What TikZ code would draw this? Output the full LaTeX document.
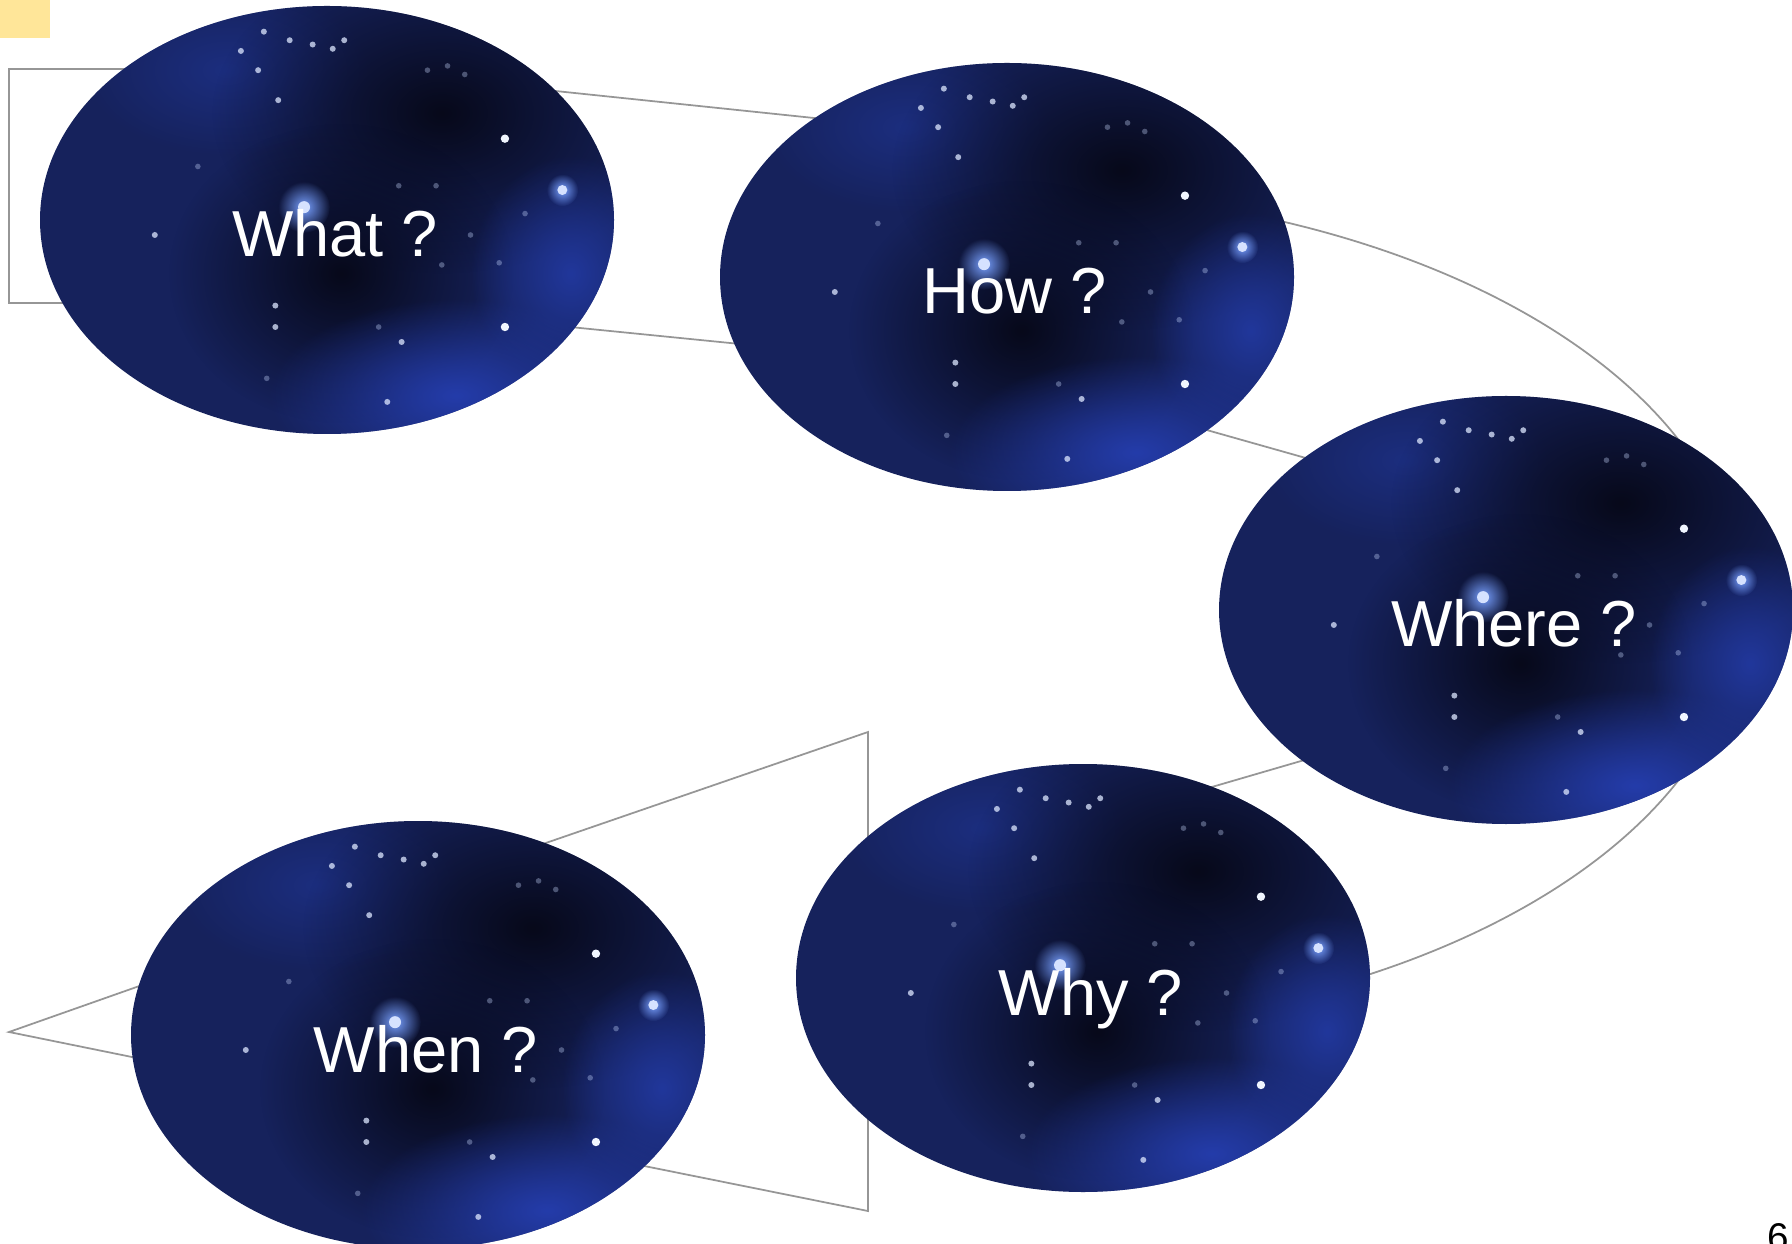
\documentclass[tikz,border=0pt]{standalone}
\usepackage{fontspec}
\setmainfont{Liberation Sans}
\usetikzlibrary{shapes.geometric,fadings,backgrounds}
\definecolor{skynavy}{RGB}{22,34,92}
\definecolor{skydark}{RGB}{7,9,26}
\definecolor{skyblue}{RGB}{36,60,170}
\definecolor{skyglow}{RGB}{120,160,255}
\definecolor{linkgray}{RGB}{150,150,150}
\definecolor{notepad}{RGB}{255,230,153}
\tikzfading[name=softblob, inner color=transparent!0, outer color=transparent!100]
% one night-sky picture, drawn in units of the bubble's half axes
\newcommand{\skyfield}{%
  \fill[skynavy] (0,0) ellipse (1.05 and 1.05);
  \fill[skyblue!45!skynavy, path fading=softblob] (-0.35,0.7) ellipse (0.5 and 0.4);
  \fill[skydark, path fading=softblob] (0.4,0.5) ellipse (0.8 and 0.75);
  \fill[skydark, path fading=softblob] (0.05,-0.25) ellipse (0.6 and 0.7);
  \fill[skyblue, path fading=softblob] (0.45,-0.82) ellipse (0.65 and 0.45);
  \fill[skyblue!80!skynavy, path fading=softblob] (0.85,-0.25) ellipse (0.35 and 0.55);
  \fill[skyglow, path fading=softblob] (-0.08,0.06) ellipse (0.09 and 0.12);
  \fill[white!70!skyglow] (-0.08,0.06) circle (0.6mm);
  \fill[skyglow, path fading=softblob] (0.82,0.14) ellipse (0.055 and 0.075);
  \fill[white!70!skyglow] (0.82,0.14) circle (0.5mm);
  \foreach \sx/\sy in {0.62/0.38,0.62/-0.50}
    \fill[white!90!skyglow] (\sx,\sy) circle (0.42mm);
  \foreach \sx/\sy in {0.26/-0.57,-0.18/-0.40,-0.18/-0.50,-0.60/-0.07,0.21/-0.85,
      -0.24/0.70,-0.17/0.56,-0.22/0.88,-0.30/0.79,-0.13/0.84,-0.05/0.82,0.02/0.80,0.06/0.84}
    \fill[white!75!skyglow, opacity=0.75] (\sx,\sy) circle (0.3mm);
  \foreach \sx/\sy in {0.50/-0.07,0.38/0.16,0.40/-0.21,0.18/-0.50,-0.21/-0.74,
      0.60/-0.20,0.69/0.03,0.25/0.16,0.35/0.70,0.42/0.72,0.48/0.68,-0.45/0.25}
    \fill[white!60!skyglow, opacity=0.35] (\sx,\sy) circle (0.28mm);
}
\tikzset{
  bubble/.style={ellipse, minimum width=57.4mm, minimum height=42.8mm, inner sep=0pt},
  ask/.style={anchor=base, inner sep=0pt, text=white, font=\fontsize{18.5}{22}\selectfont},
  link/.style={linkgray, line width=0.5pt},
}
\begin{document}
\begin{tikzpicture}[x=0.1mm, y=-0.1mm]
\useasboundingbox (0,0) rectangle (1792,1244);
\fill[notepad] (0,0) rectangle (50,38);
%---- the five bubbles
\node[bubble] (what)  at (327,220)  {};
\node[bubble] (how)   at (1007,277) {};
\node[bubble] (where) at (1506,610) {};
\node[bubble] (why)   at (1083,978) {};
\node[bubble] (when)  at (418,1035) {};
\node[ask] (whatq)  at ([shift={(8,37)}]what.center)  {What ?};
\node[ask] (howq)   at ([shift={(8,37)}]how.center)   {How ?};
\node[ask] (whereq) at ([shift={(8,37)}]where.center) {Where ?};
\node[ask] (whyq)   at ([shift={(8,37)}]why.center)   {Why ?};
\node[ask] (whenq)  at ([shift={(8,37)}]when.center)  {When ?};
\node[font=\fontsize{11}{13}\selectfont, anchor=base east, inner sep=0pt] (pageno) at (1790,1250) {6};
%---- the frame lines and the skies behind the words
\coordinate (brtop) at (9,69);
\coordinate (brbot) at (9,303);
\coordinate (wtop) at (868,732);
\coordinate (wbot) at (868,1211);
\coordinate (wtip) at (9,1032);
\begin{scope}[on background layer]
  \draw[link] (what.center |- brtop) -- (brtop) -- (brbot) -- (what.center |- brbot);
  \draw[link] ([shift={(123,-140)}]what.center) -- ([shift={(-107,-150)}]how.center);
  \draw[link] ([shift={(153,98)}]what.center) -- ([shift={(-177,76)}]how.center);
  \draw[link] ([shift={(143,137)}]how.center) -- ([shift={(-126,-131)}]where.center);
  \draw[link] ([shift={(-126,128)}]where.center) -- ([shift={(67,-173)}]why.center);
  \draw[link] ([shift={(-7,-87)}]how.center) arc[start angle=-90, end angle=90, x radius=742, y radius=420];
  \draw[link] ([shift={(32,-159)}]when.center) -- (wtop) -- (wbot) -- ([shift={(82,102)}]when.center);
  \draw[link] ([shift={(-168,-88)}]when.center) -- (wtip) -- ([shift={(-168,46)}]when.center);
  \foreach \n in {what,how,where,why,when}{
    \begin{scope}
      \clip (\n.center) ellipse (287 and 214);
      \begin{scope}[shift={(\n.center)}, x=28.7mm, y=21.4mm]
        \skyfield
      \end{scope}
    \end{scope}}
\end{scope}
\end{tikzpicture}
\end{document}
